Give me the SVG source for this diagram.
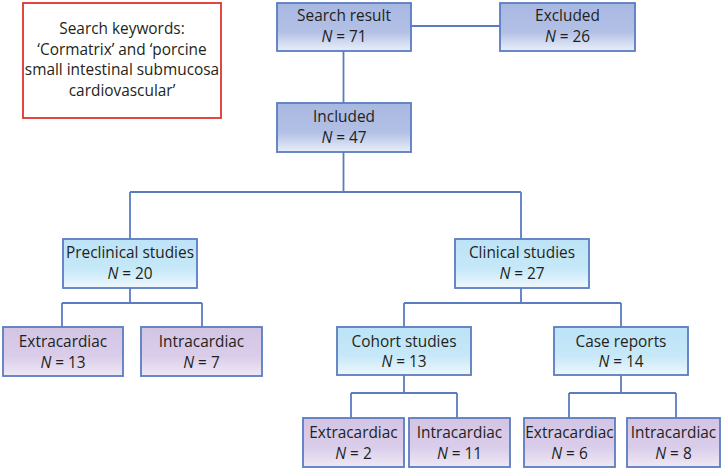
<svg xmlns="http://www.w3.org/2000/svg" width="725" height="469" viewBox="0 0 725 469">
<defs>
<linearGradient id="gBlue" x1="0" y1="0" x2="0" y2="1">
<stop offset="0" stop-color="#a9b8e2"/><stop offset="0.6" stop-color="#b2c0e5"/><stop offset="1" stop-color="#eaeff9"/>
</linearGradient>
<linearGradient id="gCyan" x1="0" y1="0" x2="0" y2="1">
<stop offset="0" stop-color="#bde3f7"/><stop offset="0.6" stop-color="#c6e8f8"/><stop offset="1" stop-color="#eef8fd"/>
</linearGradient>
<linearGradient id="gPurple" x1="0" y1="0" x2="0" y2="1">
<stop offset="0" stop-color="#d3c4e4"/><stop offset="0.6" stop-color="#dacdea"/><stop offset="1" stop-color="#efe9f5"/>
</linearGradient>
</defs>
<style>
.box{stroke:#5b7cc0;stroke-width:1.8}
.b{fill:url(#gBlue)}
.c{fill:url(#gCyan)}
.p{fill:url(#gPurple)}
text{font-family:"Open Sans","Liberation Sans",sans-serif;font-size:15.4px;fill:#231f20;text-anchor:middle}
.i{font-style:italic}
#connectors path{fill:none;stroke:#5b7cc0;stroke-width:1.8}
</style>
<rect width="725" height="469" fill="#ffffff"/>
<g id="keywords">
<rect x="23" y="3" width="198" height="115" fill="#ffffff" stroke="#e0332e" stroke-width="1.8"/>
<text x="122" y="34">Search keywords:</text>
<text x="122" y="55">‘Cormatrix’ and ‘porcine</text>
<text x="122" y="75">small intestinal submucosa</text>
<text x="122" y="96">cardiovascular’</text>
</g>
<g id="connectors">
<path d="M411 26H500"/>
<path d="M343.5 51V103"/>
<path d="M343.5 152V192M130 192H521M130 192V239M521 192V239"/>
<path d="M130 288V303M62 303H202M62 303V327M202 303V327"/>
<path d="M521 288V303M404 303H621M404 303V327M621 303V327"/>
<path d="M404 375V393M351 393H457M351 393V418M457 393V418"/>
<path d="M621 375V393M569 393H676M569 393V418M676 393V418"/>
</g>
<g id="search">
<rect class="box b" x="277" y="3" width="134" height="48"/>
<text x="344" y="21">Search result</text>
<text x="344" y="42"><tspan class="i">N</tspan> = 71</text>
</g>
<g id="excluded">
<rect class="box b" x="500" y="3" width="135" height="48"/>
<text x="567.5" y="21">Excluded</text>
<text x="567.5" y="42"><tspan class="i">N</tspan> = 26</text>
</g>
<g id="included">
<rect class="box b" x="277" y="103" width="134" height="49"/>
<text x="344" y="122">Included</text>
<text x="344" y="143"><tspan class="i">N</tspan> = 47</text>
</g>
<g id="preclinical">
<rect class="box c" x="63" y="239" width="134" height="49"/>
<text x="130" y="258">Preclinical studies</text>
<text x="130" y="279"><tspan class="i">N</tspan> = 20</text>
</g>
<g id="clinical">
<rect class="box c" x="455" y="239" width="134" height="49"/>
<text x="522" y="258">Clinical studies</text>
<text x="522" y="279"><tspan class="i">N</tspan> = 27</text>
</g>
<g id="pre-extra">
<rect class="box p" x="3" y="327" width="120" height="49"/>
<text x="63" y="347">Extracardiac</text>
<text x="63" y="368"><tspan class="i">N</tspan> = 13</text>
</g>
<g id="pre-intra">
<rect class="box p" x="141" y="327" width="121" height="49"/>
<text x="201.5" y="347">Intracardiac</text>
<text x="201.5" y="368"><tspan class="i">N</tspan> = 7</text>
</g>
<g id="cohort">
<rect class="box c" x="337" y="327" width="134" height="48"/>
<text x="404" y="347">Cohort studies</text>
<text x="404" y="367"><tspan class="i">N</tspan> = 13</text>
</g>
<g id="case">
<rect class="box c" x="554" y="327" width="134" height="48"/>
<text x="621" y="347">Case reports</text>
<text x="621" y="367"><tspan class="i">N</tspan> = 14</text>
</g>
<g id="co-extra">
<rect class="box p" x="303" y="418" width="101" height="49"/>
<text x="353.5" y="438">Extracardiac</text>
<text x="353.5" y="459"><tspan class="i">N</tspan> = 2</text>
</g>
<g id="co-intra">
<rect class="box p" x="409" y="418" width="101" height="49"/>
<text x="459.5" y="438">Intracardiac</text>
<text x="459.5" y="459"><tspan class="i">N</tspan> = 11</text>
</g>
<g id="cr-extra">
<rect class="box p" x="524" y="418" width="91" height="49"/>
<text x="569.5" y="438">Extracardiac</text>
<text x="569.5" y="459"><tspan class="i">N</tspan> = 6</text>
</g>
<g id="cr-intra">
<rect class="box p" x="627" y="418" width="93" height="49"/>
<text x="673.5" y="438">Intracardiac</text>
<text x="673.5" y="459"><tspan class="i">N</tspan> = 8</text>
</g>
</svg>
